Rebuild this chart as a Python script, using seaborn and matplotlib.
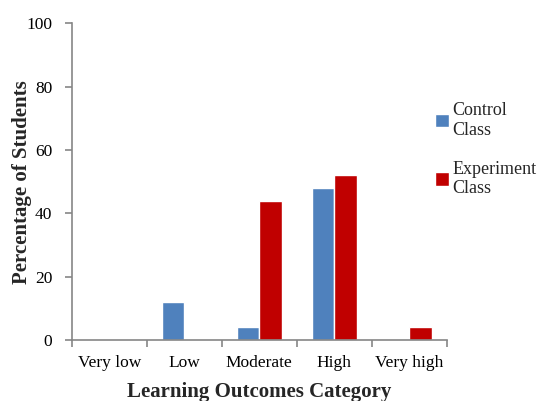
import matplotlib
matplotlib.use("Agg")
import matplotlib.pyplot as plt
import seaborn as sns
import pandas as pd

categories = ["Very low", "Low", "Moderate", "High", "Very high"]
control = [0, 12, 4, 48, 0]
experiment = [0, 0, 44, 52, 4]
series_names = ["Control\nClass", "Experiment\nClass"]
colors = ["#4F81BD", "#C00000"]

df = pd.DataFrame({
    "Category": categories * 2,
    "Percentage": control + experiment,
    "Group": [series_names[0]] * len(categories) + [series_names[1]] * len(categories),
})

sns.set_style("white")
plt.rcParams["font.family"] = ["Liberation Serif", "DejaVu Serif"]

fig = plt.figure(figsize=(5.39, 4.01), dpi=100)
ax = fig.add_axes([0.133, 0.152, 0.696, 0.790])

sns.barplot(data=df, x="Category", y="Percentage", hue="Group", order=categories,
            hue_order=series_names, palette=colors, width=0.6, saturation=1,
            ax=ax, legend=True)

axis_grey = "#868686"
ax.set_ylim(0, 100)
ax.set_xlim(-0.5, len(categories) - 0.5)
ax.set_yticks(range(0, 101, 20))
ax.set_xticks(range(len(categories)))
ax.set_xticklabels(categories)

# category boundary ticks on the x axis and outward ticks on the y axis
ax.set_xticks([i - 0.5 for i in range(len(categories) + 1)], minor=True)
ax.tick_params(axis="x", which="major", bottom=True, length=0, pad=11,
               labelsize=12.5, labelcolor="black")
ax.tick_params(axis="x", which="minor", bottom=True, length=5, width=1.2,
               color=axis_grey, direction="out")
ax.tick_params(axis="y", which="major", left=True, length=5, width=1.2,
               color=axis_grey, direction="out", pad=9, labelsize=12.5,
               labelcolor="black")

for side in ["top", "right"]:
    ax.spines[side].set_visible(False)
for side in ["left", "bottom"]:
    ax.spines[side].set_color(axis_grey)
    ax.spines[side].set_linewidth(1.2)

ax.set_xlabel("Learning Outcomes Category", fontsize=15, fontweight="bold")
ax.set_ylabel("Percentage of Students", fontsize=15, fontweight="bold")
ax.xaxis.set_label_coords(0.5, -0.164)
ax.yaxis.set_label_coords(-0.133, 0.5)
ax.xaxis.label.set_va("center")
ax.yaxis.label.set_va("center")

ax.get_legend().remove()
handles, labels = ax.get_legend_handles_labels()
fig.legend(handles, labels, loc="upper left", bbox_to_anchor=(0.807, 0.745),
           frameon=False, fontsize=13, handlelength=0.75, handleheight=0.75,
           handletextpad=0.2, labelspacing=1.2, borderaxespad=0, borderpad=0)

fig.savefig("out.png", dpi=100)
